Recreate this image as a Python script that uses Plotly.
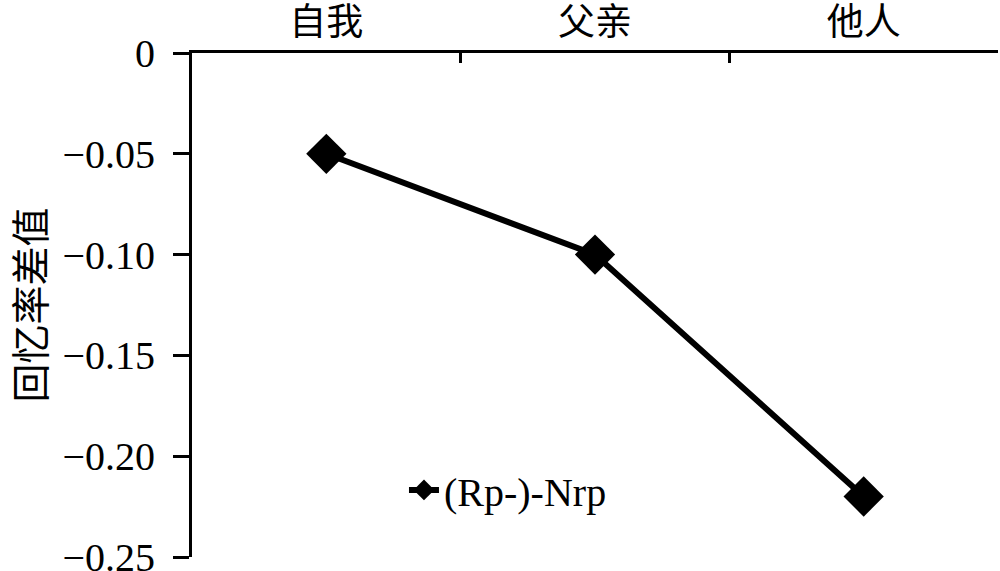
import plotly.graph_objects as go

categories = ["自我", "父亲", "他人"]
values = [-0.05, -0.10, -0.22]
series_name = "(Rp-)-Nrp"
y_tickvals = [0, -0.05, -0.10, -0.15, -0.20, -0.25]
y_ticktext = ["0", "\u22120.05", "\u22120.10", "\u22120.15", "\u22120.20", "\u22120.25"]
y_title = "回忆率差值"

fig = go.Figure()
fig.add_trace(go.Scatter(
    x=categories, y=values, name=series_name, mode="lines+markers",
    line=dict(color="black", width=6),
    marker=dict(symbol="diamond", size=31, color="black"),
))

fig.update_layout(
    width=1000, height=571,
    margin=dict(l=192, r=2, t=53, b=14),
    paper_bgcolor="white", plot_bgcolor="white",
    font=dict(family="Liberation Serif", size=40, color="black"),
    showlegend=True,
    legend=dict(x=0.263, y=0.133, xanchor="left", yanchor="middle",
                bgcolor="rgba(0,0,0,0)",
                font=dict(family="Liberation Serif", size=40, color="black")),
    xaxis=dict(
        side="top", type="category", range=[-0.5, 2.5], automargin=False,
        showline=True, linecolor="black", linewidth=3,
        ticks="inside", tickson="boundaries", ticklen=10, tickwidth=3, tickcolor="black",
        showgrid=False, zeroline=False, ticklabelstandoff=0,
        tickfont=dict(family="Noto Sans CJK SC", size=37, color="black"),
    ),
    yaxis=dict(
        range=[-0.25, 0], automargin=False,
        showline=True, linecolor="black", linewidth=3,
        ticks="outside", ticklen=16, tickwidth=3, tickcolor="black",
        tickvals=y_tickvals, ticktext=y_ticktext,
        showgrid=False, zeroline=False,
        ticklabelstandoff=10, ticklabeloverflow="allow",
        tickfont=dict(family="Liberation Serif", size=40, color="black"),
        title=dict(text=y_title, font=dict(family="Noto Sans CJK SC", size=39, color="black"), standoff=46),
    ),
)

fig.write_html("out.html", config={"displayModeBar": False},
               post_script="document.body.style.margin='0';")
